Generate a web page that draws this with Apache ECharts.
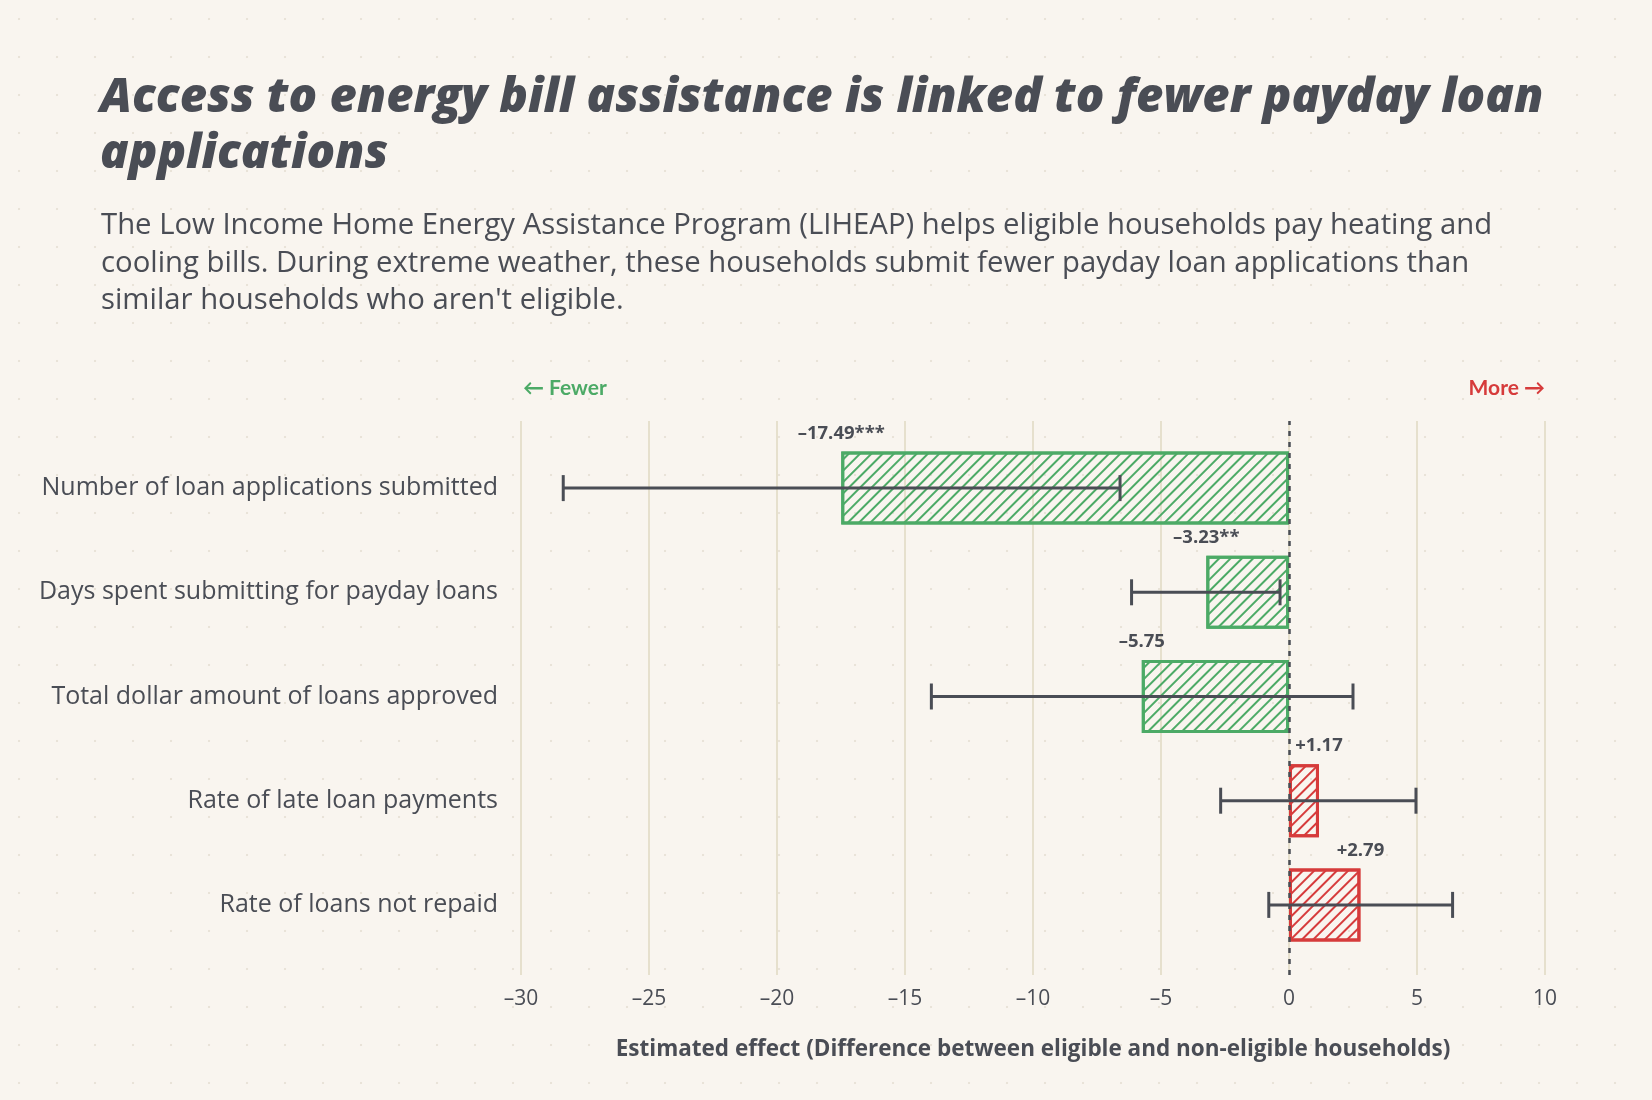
<!DOCTYPE html>
<html>

<head>
    <title>LIHEAP and payday loans</title>
    <meta charset="utf-8">
    <script src="https://cdn.jsdelivr.net/npm/echarts@6/dist/echarts.min.js"></script>
    <style>
        html, body {
            margin: 0;
            padding: 0;
            background-color: #f9f5ef;
            background-image: radial-gradient(circle, #e9e3d8 1px, transparent 1.6px);
            background-size: 38px 38px;
        }
    </style>
</head>

<body>
    <div id="main" style="width: 1652px;height:1100px;"></div>

    <script type="text/javascript">
        // outcomes, top to bottom
        var categories = [
            'Number of loan applications submitted',
            'Days spent submitting for payday loans',
            'Total dollar amount of loans approved',
            'Rate of late loan payments',
            'Rate of loans not repaid'
        ];
        // point estimates
        var effects = [-17.49, -3.23, -5.75, 1.17, 2.79];
        // confidence interval ends
        var ciLow = [-28.35, -6.15, -13.97, -2.67, -0.79];
        var ciHigh = [-6.6, -0.35, 2.5, 4.96, 6.39];
        // significance stars
        var stars = ['***', '**', '', '', ''];

        var ink = '#4a4d55';
        var green = '#4caa66';
        var red = '#d63b3b';
        var font = 'Open Sans';

        var myChart = echarts.init(document.getElementById('main'));

        function fmtTick(v) {
            return v < 0 ? '\u2013' + (-v) : String(v);
        }

        var barData = effects.map(function (v) {
            var c = v < 0 ? green : red;
            return {
                value: v,
                itemStyle: {
                    color: 'rgba(249,245,239,0)',
                    borderColor: c,
                    borderWidth: 3,
                    decal: {
                        symbol: 'rect',
                        symbolSize: 1,
                        dashArrayX: [1, 0],
                        dashArrayY: [2, 6],
                        rotation: -Math.PI / 4,
                        color: c
                    }
                }
            };
        });

        var ciData = categories.map(function (c, i) {
            return [i, ciLow[i], ciHigh[i], effects[i]];
        });

        var option = {
            backgroundColor: 'transparent',
            title: [{
                text: 'Access to energy bill assistance is linked to fewer payday loan\napplications',
                left: 95,
                top: 66,
                textStyle: {
                    fontFamily: font,
                    fontWeight: 800,
                    fontStyle: 'italic',
                    fontSize: 47.3,
                    lineHeight: 56,
                    color: ink
                }
            }, {
                text: 'The Low Income Home Energy Assistance Program (LIHEAP) helps eligible households pay heating and\ncooling bills. During extreme weather, these households submit fewer payday loan applications than\nsimilar households who aren\'t eligible.',
                left: 96,
                top: 202,
                textStyle: {
                    fontFamily: font,
                    fontWeight: 'normal',
                    fontSize: 29.3,
                    lineHeight: 37.5,
                    color: ink
                }
            }],
            graphic: [{
                type: 'text',
                left: 523,
                top: 378,
                style: { text: '\u2190 Fewer', fill: green, font: 'bold 21px Lato' }
            }, {
                type: 'text',
                right: 107,
                top: 378,
                style: { text: 'More \u2192', fill: red, font: 'bold 21px Lato' }
            }],
            grid: [{
                // background grid: gridlines, zero line, ticks
                left: 521,
                right: 107,
                top: 421,
                bottom: 125
            }, {
                // data grid
                left: 521,
                right: 107,
                top: 436,
                bottom: 143
            }],
            xAxis: [{
                gridIndex: 0,
                type: 'value',
                min: -30,
                max: 10,
                interval: 5,
                axisLine: { show: false },
                axisTick: { show: false },
                axisLabel: {
                    formatter: fmtTick,
                    margin: 14,
                    fontFamily: font,
                    fontSize: 21,
                    color: ink
                },
                splitLine: { lineStyle: { color: '#e6e0cd', width: 2 } },
                name: 'Estimated effect (Difference between eligible and non-eligible households)',
                nameLocation: 'middle',
                nameGap: 63,
                nameTextStyle: {
                    fontFamily: font,
                    fontWeight: 'bold',
                    fontSize: 22.5,
                    color: ink
                }
            }, {
                gridIndex: 1,
                type: 'value',
                min: -30,
                max: 10,
                interval: 5,
                show: false
            }],
            yAxis: [{
                gridIndex: 0,
                type: 'value',
                min: 0,
                max: 1,
                show: false
            }, {
                gridIndex: 1,
                type: 'category',
                data: categories,
                inverse: true,
                axisLine: { show: false },
                axisTick: { show: false },
                splitLine: { show: false },
                axisLabel: {
                    margin: 23,
                    fontFamily: font,
                    fontSize: 25,
                    color: ink
                }
            }],
            series: [{
                type: 'line',
                xAxisIndex: 0,
                yAxisIndex: 0,
                data: [],
                silent: true,
                markLine: {
                    symbol: 'none',
                    silent: true,
                    label: { show: false },
                    lineStyle: { color: ink, width: 2.5, type: [5, 6] },
                    data: [{ xAxis: 0 }]
                },
                z: 1
            }, {
                type: 'bar',
                xAxisIndex: 1,
                yAxisIndex: 1,
                data: barData,
                barWidth: 73,
                z: 2
            }, {
                type: 'custom',
                xAxisIndex: 1,
                yAxisIndex: 1,
                data: ciData,
                encode: { x: [1, 2], y: 0 },
                z: 4,
                renderItem: function (params, api) {
                    var row = api.value(0);
                    var lo = api.coord([api.value(1), row]);
                    var hi = api.coord([api.value(2), row]);
                    var capH = 13;
                    var st = { stroke: ink, lineWidth: 3 };
                    return {
                        type: 'group',
                        children: [{
                            type: 'line',
                            shape: { x1: lo[0], y1: lo[1], x2: hi[0], y2: hi[1] },
                            style: st
                        }, {
                            type: 'line',
                            shape: { x1: lo[0], y1: lo[1] - capH, x2: lo[0], y2: lo[1] + capH },
                            style: st
                        }, {
                            type: 'line',
                            shape: { x1: hi[0], y1: hi[1] - capH, x2: hi[0], y2: hi[1] + capH },
                            style: st
                        }]
                    };
                }
            }, {
                type: 'custom',
                xAxisIndex: 1,
                yAxisIndex: 1,
                data: ciData,
                encode: { x: 3, y: 0 },
                z: 5,
                renderItem: function (params, api) {
                    var row = api.value(0);
                    var v = api.value(3);
                    var p = api.coord([v, row]);
                    var txt = (v < 0 ? '\u2013' + Math.abs(v).toFixed(2) : '+' + v.toFixed(2)) + stars[params.dataIndex];
                    return {
                        type: 'text',
                        x: p[0],
                        y: p[1] - 36.5 - 18,
                        style: {
                            text: txt,
                            fill: ink,
                            font: 'bold 18.5px "Open Sans"',
                            align: 'center',
                            verticalAlign: 'middle'
                        }
                    };
                }
            }]
        };

        myChart.setOption(option);
    </script>
</body>

</html>
